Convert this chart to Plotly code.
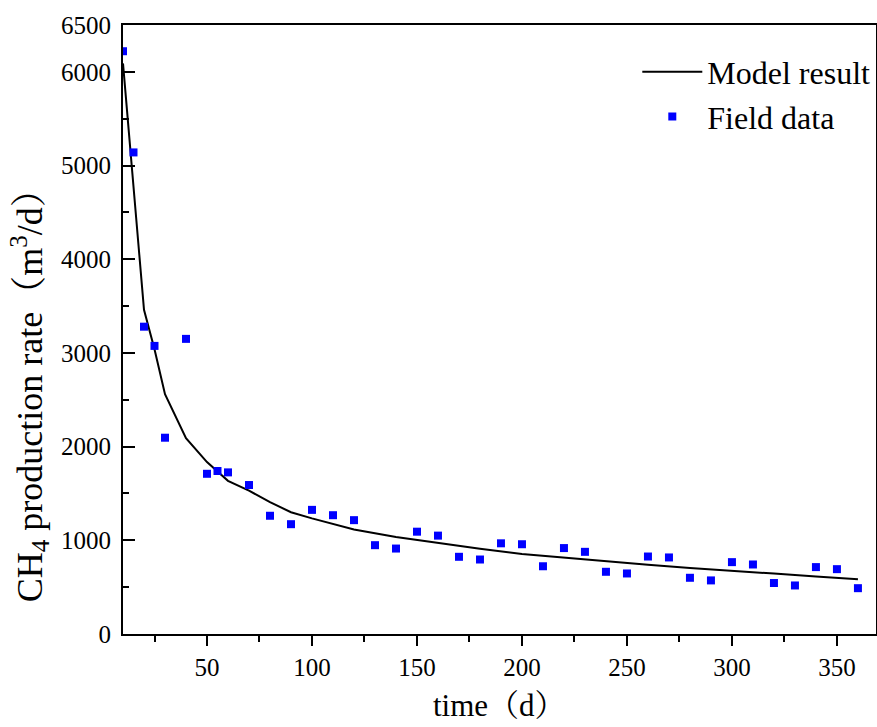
import plotly.graph_objects as go

# Field data
field_t = [10, 15, 20, 25, 30, 40, 50, 55, 60, 70, 80, 90, 100, 110, 120, 130, 140, 150,
           160, 170, 180, 190, 200, 210, 220, 230, 240, 250, 260, 270, 280, 290, 300,
           310, 320, 330, 340, 350, 360]
field_q = [6220, 5140, 3280, 3075, 2095, 3150, 1710, 1740, 1725, 1590, 1262, 1172, 1325,
           1268, 1215, 948, 912, 1092, 1050, 824, 795, 968, 958, 723, 917, 877, 664, 646,
           827, 817, 600, 572, 767, 742, 544, 518, 714, 692, 489]

# Model result
model_t = [10, 15, 20, 25, 30, 40, 50, 60, 70, 80, 90, 100, 120, 140, 160, 180, 200,
           220, 240, 260, 280, 300, 320, 340, 360]
model_q = [6090, 4780, 3460, 3040, 2560, 2090, 1835, 1635, 1530, 1407, 1300, 1234, 1115,
           1035, 970, 910, 855, 815, 775, 740, 705, 672, 645, 615, 585]

x_ticks = [50, 100, 150, 200, 250, 300, 350]
y_ticks = [0, 1000, 2000, 3000, 4000, 5000, 6000, 6500]

FONT = "Liberation Serif, Times New Roman, Noto Serif CJK SC, Noto Sans CJK SC, serif"

fig = go.Figure()
fig.add_trace(go.Scatter(x=model_t, y=model_q, mode="lines", name="Model result",
                         line=dict(color="black", width=2)))
fig.add_trace(go.Scatter(x=field_t, y=field_q, mode="markers", name="Field data",
                         marker=dict(symbol="square", color="#0000FF", size=8,
                                     line=dict(width=0))))

fig.update_layout(
    width=877, height=727,
    margin=dict(l=123, r=1, t=25, b=93, autoexpand=False),
    paper_bgcolor="white", plot_bgcolor="white",
    font=dict(family=FONT, size=25, color="black"),
    showlegend=True,
    legend=dict(x=0.683, y=0.968, xanchor="left", yanchor="top",
                bgcolor="rgba(0,0,0,0)", font=dict(size=32, family=FONT),
                itemwidth=60, tracegroupgap=0),
)

fig.update_xaxes(
    range=[10, 368.6], tickmode="array", tickvals=x_ticks,
    ticks="outside", ticklen=10, tickwidth=2, tickcolor="black",
    showline=True, linewidth=2, linecolor="black", mirror=True,
    showgrid=False, zeroline=False,
    minor=dict(ticks="outside", ticklen=6, tickwidth=2, tickcolor="black",
               tick0=0, dtick=25, showgrid=False),
    tickfont=dict(size=25, family=FONT),
)
fig.update_yaxes(
    range=[0, 6500], tickmode="array", tickvals=y_ticks,
    ticks="inside", ticklen=12, tickwidth=2, tickcolor="black",
    showline=True, linewidth=2, linecolor="black", mirror=True,
    showgrid=False, zeroline=False,
    minor=dict(ticks="inside", ticklen=6, tickwidth=2, tickcolor="black",
               tick0=0, dtick=500, showgrid=False),
    tickfont=dict(size=25, family=FONT),
    ticklabelstandoff=5,
)

fig.add_annotation(
    text="CH<sub>4</sub> production rate（m<sup>3</sup>/d）",
    xref="paper", yref="paper", x=-0.1235, y=0.405,
    xanchor="center", yanchor="middle", textangle=-90, showarrow=False,
    font=dict(size=36, family=FONT),
)
fig.add_annotation(
    text="time（d）",
    xref="paper", yref="paper", x=0.5, y=-0.1166,
    xanchor="center", yanchor="middle", showarrow=False,
    font=dict(size=31, family=FONT),
)

fig.write_html("out.html")
